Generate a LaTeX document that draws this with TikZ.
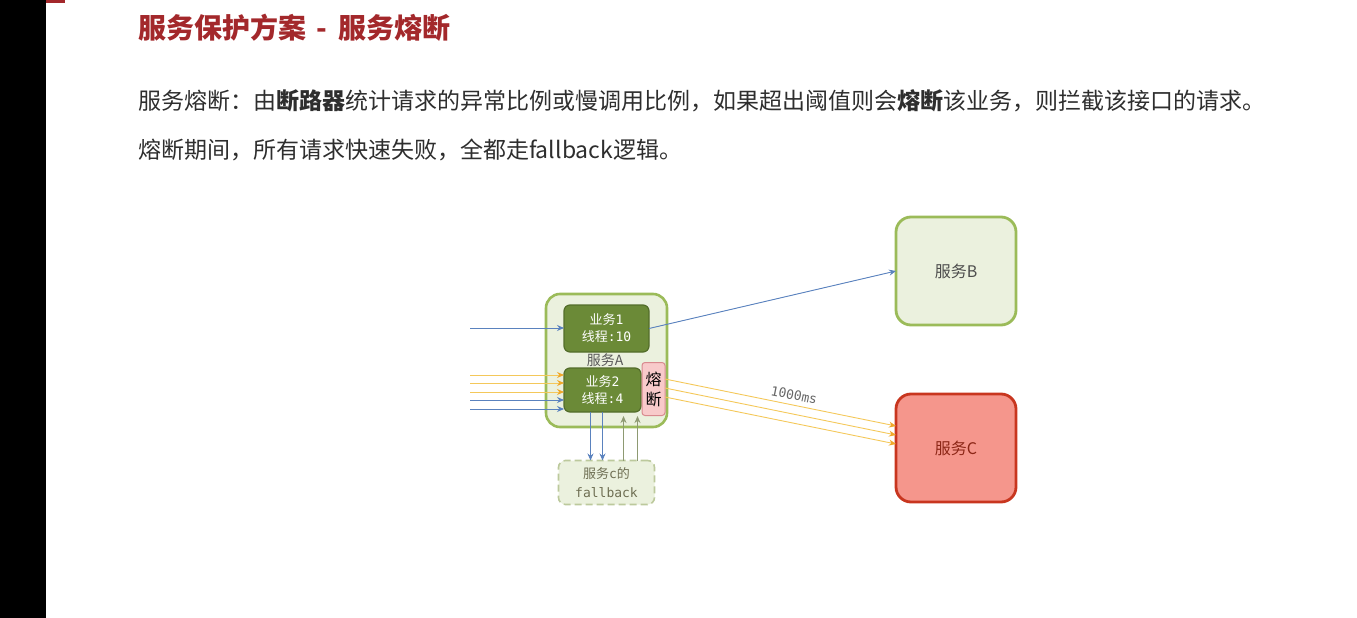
\documentclass[tikz,border=0pt]{standalone}
\usepackage{fontspec}
\setmainfont{Noto Sans CJK SC}
\newfontfamily\monofont{DejaVu Sans Mono}
\usetikzlibrary{positioning, arrows.meta}
\definecolor{titlered}{HTML}{A3282B}
\definecolor{bodygray}{HTML}{2E2E2E}
\definecolor{lightgreen}{HTML}{EBF1DE}
\definecolor{bordergreen}{HTML}{9BBB59}
\definecolor{bizgreen}{HTML}{6B8A37}
\definecolor{bizdark}{HTML}{536D2A}
\definecolor{salmon}{HTML}{F5968C}
\definecolor{darkred}{HTML}{C8361F}
\definecolor{pinkfill}{HTML}{F8CACA}
\definecolor{pinkline}{HTML}{D98A8F}
\definecolor{flowblue}{HTML}{5A82BE}
\definecolor{flowyellow}{HTML}{F4C85A}
\definecolor{tiporange}{HTML}{F0A82A}
\definecolor{flowolive}{HTML}{8E9A72}
\definecolor{fbline}{HTML}{BCC99C}
\definecolor{fbtext}{HTML}{6E6E52}
\tikzset{
	>={Stealth[length=7pt,width=6pt]},
	align=center,
	outer sep=0pt,
	service/.style={rounded corners=15pt, line width=2.8pt, minimum width=120pt, minimum height=108pt, font=\fontsize{16}{18}\selectfont},
	bizbox/.style={fill=bizgreen, draw=bizdark, line width=1.2pt, rounded corners=6pt, text=white, font=\fontsize{13}{17}\selectfont},
	blueflow/.style={->, draw=flowblue, fill=flowblue, line width=0.9pt},
	yellowflow/.style={-{Stealth[length=7pt,width=6pt,color=tiporange]}, draw=flowyellow, line width=0.9pt},
	oliveflow/.style={->, draw=flowolive, fill=flowolive, line width=0.9pt},
	bodytext/.style={anchor=west, text=bodygray, font=\fontsize{23}{28}\selectfont}
}
\begin{document}
\begin{tikzpicture}
	[ x=1pt, y=-1pt, inner sep=0pt ]
	\useasboundingbox (0,0) rectangle (1357,618);
	\fill[black] (0,0) rectangle (46,618);
	\fill[titlered] (46,0) rectangle (65,3);
	% title and description
	\node(title)[anchor=west, text=titlered, font=\fontsize{28}{32}\selectfont\bfseries] at (138,28) {服务保护方案\hspace{11pt}-\hspace{11pt}服务熔断};
	\node(line1)[bodytext] at (138,101) {服务熔断：由\textbf{断路器}统计请求的异常比例或慢调用比例，如果超出阈值则会\textbf{熔断}该业务，则拦截该接口的请求。};
	\node(line2)[bodytext] at (138,150) {熔断期间，所有请求快速失败，全都走fallback逻辑。};
	% service A
	\node(servA)[rounded corners=14pt, fill=lightgreen, draw=bordergreen, line width=2.6pt, minimum width=121pt, minimum height=133pt] at (606.5,360.5) {};
	\node(servAname)[text=black!65, font=\fontsize{14}{16}\selectfont] at (605,360) {服务A};
	\node(biz1)[bizbox, minimum width=85pt, minimum height=47pt] at (606.5,328.5) {业务{\monofont 1}\\线程{\monofont :10}};
	\node(biz2)[bizbox, minimum width=77pt, minimum height=44pt] at (602.5,390) {业务{\monofont 2}\\线程{\monofont :4}};
	\node(breaker)[draw=pinkline, fill=pinkfill, rounded corners=3pt, line width=1pt, minimum width=23pt, minimum height=53pt, font=\fontsize{16}{20}\selectfont] at (653.5,389) {熔\\断};
	\node(fallback)[draw=fbline, fill=lightgreen, dash pattern=on 7pt off 4pt, line width=1.6pt, rounded corners=7pt, minimum width=96pt, minimum height=44pt, text=fbtext, font=\fontsize{13}{19}\selectfont] at (606.5,482.5) {服务{\monofont c}的\\{\monofont fallback}};
	% services B and C
	\node(servB)[service, fill=lightgreen, draw=bordergreen, text=black!70] at (956,271) {服务B};
	\node(servC)[service, fill=salmon, draw=darkred, text=darkred!70!black, below=69pt of servB] {服务C};
	% incoming requests
	\coordinate (in1) at (470,328);
	\coordinate (in2) at (470,375);
	\coordinate (in3) at (470,383);
	\coordinate (in4) at (470,392);
	\coordinate (in5) at (470,400);
	\coordinate (in6) at (470,409);
	\draw[blueflow] (in1) -- (in1 -| biz1.west);
	\foreach \n in {in2,in3,in4}
		\draw[yellowflow] (\n) -- (\n -| biz2.west);
	\foreach \n in {in5,in6}
		\draw[blueflow] (\n) -- (\n -| biz2.west);
	% calls out of service A
	\draw[blueflow] (biz1.east) -- (servB.west);
	\draw[yellowflow] ([yshift=10pt]breaker.east) -- node[pos=0.55, above=5pt, sloped, text=black!60, font=\monofont\fontsize{13}{15}\selectfont]{1000ms} ([yshift=22pt]servC.west);
	\draw[yellowflow] ([yshift=1pt]breaker.east) -- ([yshift=13pt]servC.west);
	\draw[yellowflow] ([yshift=-8pt]breaker.east) -- ([yshift=4pt]servC.west);
	% fallback
	\coordinate (down1) at ([xshift=-12pt]biz2.south);
	\coordinate (down2) at (biz2.south);
	\coordinate (up1) at ([xshift=21pt]biz2.south);
	\coordinate (up2) at ([xshift=35pt]biz2.south);
	\draw[blueflow] (down1) -- (down1 |- fallback.north);
	\draw[blueflow] (down2) -- (down2 |- fallback.north);
	\draw[oliveflow] (up1 |- fallback.north) -- ([yshift=-4pt]up1);
	\draw[oliveflow] (up2 |- fallback.north) -- ([yshift=-4pt]up2);
\end{tikzpicture}
\end{document}
